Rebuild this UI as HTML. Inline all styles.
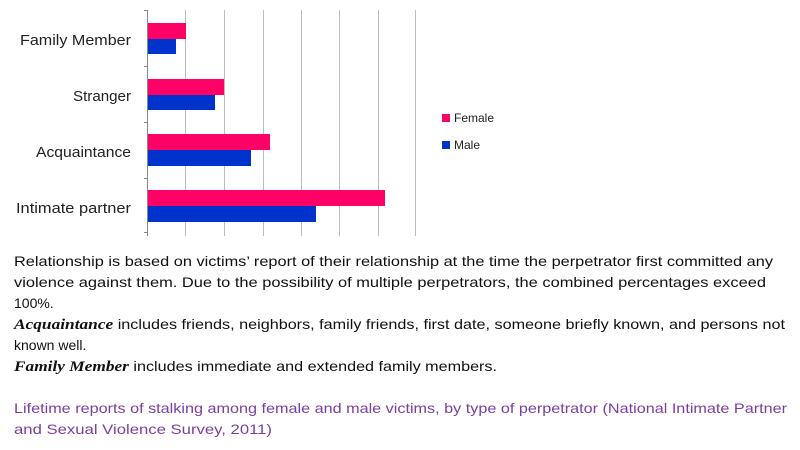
<!DOCTYPE html>
<html><head><meta charset="utf-8"><style>
html,body{margin:0;padding:0;background:#fff;width:800px;height:450px;overflow:hidden}
svg text{font-family:"Liberation Sans",sans-serif}
</style></head><body>
<svg width="800" height="450" xmlns="http://www.w3.org/2000/svg">
<g stroke="#bdbdbd" stroke-width="1">
<line x1="185.5" y1="10" x2="185.5" y2="236"/>
<line x1="224.5" y1="10" x2="224.5" y2="236"/>
<line x1="263.5" y1="10" x2="263.5" y2="236"/>
<line x1="301.5" y1="10" x2="301.5" y2="236"/>
<line x1="339.5" y1="10" x2="339.5" y2="236"/>
<line x1="378.5" y1="10" x2="378.5" y2="236"/>
<line x1="415.5" y1="10" x2="415.5" y2="236"/>
</g>
<g stroke="#888" stroke-width="1">
<line x1="147.5" y1="10" x2="147.5" y2="236"/>
<line x1="144" y1="10.5" x2="148" y2="10.5"/>
<line x1="144" y1="66.5" x2="148" y2="66.5"/>
<line x1="144" y1="122.5" x2="148" y2="122.5"/>
<line x1="144" y1="178.5" x2="148" y2="178.5"/>
<line x1="144" y1="232.5" x2="148" y2="232.5"/>
</g>
<g fill="#ff0066">
<rect x="148" y="23" width="38" height="16"/>
<rect x="148" y="79" width="76" height="16"/>
<rect x="148" y="134" width="122" height="16"/>
<rect x="148" y="190" width="237" height="16"/>
</g>
<g fill="#0033cc">
<rect x="148" y="39" width="28" height="15"/>
<rect x="148" y="95" width="67" height="15"/>
<rect x="148" y="150" width="103" height="16"/>
<rect x="148" y="206" width="168" height="16"/>
</g>
<g font-size="15" fill="#222">
<text x="20" y="45" textLength="111" lengthAdjust="spacingAndGlyphs">Family Member</text>
<text x="73" y="101" textLength="58" lengthAdjust="spacingAndGlyphs">Stranger</text>
<text x="36" y="157" textLength="95" lengthAdjust="spacingAndGlyphs">Acquaintance</text>
<text x="16" y="213" textLength="115" lengthAdjust="spacingAndGlyphs">Intimate partner</text>
</g>
<rect x="442" y="114" width="8" height="8" fill="#ff0066"/>
<rect x="442" y="141" width="8" height="8" fill="#0033cc"/>
<g font-size="12" fill="#222">
<text x="454" y="122">Female</text>
<text x="454" y="149">Male</text>
</g>
<g font-size="14" fill="#111">
<text x="14" y="266" textLength="759" lengthAdjust="spacingAndGlyphs">Relationship is based on victims’ report of their relationship at the time the perpetrator first committed any</text>
<text x="14" y="287" textLength="752" lengthAdjust="spacingAndGlyphs">violence against them. Due to the possibility of multiple perpetrators, the combined percentages exceed</text>
<text x="14" y="308">100%.</text>
<text x="14" y="329" textLength="771" lengthAdjust="spacingAndGlyphs"><tspan font-family="Liberation Serif" font-weight="bold" font-style="italic" font-size="15">Acquaintance</tspan> includes friends, neighbors, family friends, first date, someone briefly known, and persons not</text>
<text x="14" y="350">known well.</text>
<text x="14" y="371" textLength="483" lengthAdjust="spacingAndGlyphs"><tspan font-family="Liberation Serif" font-weight="bold" font-style="italic" font-size="15">Family Member</tspan> includes immediate and extended family members.</text>
</g>
<g font-size="14" fill="#7a3fa0">
<text x="14" y="413" textLength="773" lengthAdjust="spacingAndGlyphs">Lifetime reports of stalking among female and male victims, by type of perpetrator (National Intimate Partner</text>
<text x="14" y="434" textLength="258" lengthAdjust="spacingAndGlyphs">and Sexual Violence Survey, 2011)</text>
</g>
</svg>
</body></html>
